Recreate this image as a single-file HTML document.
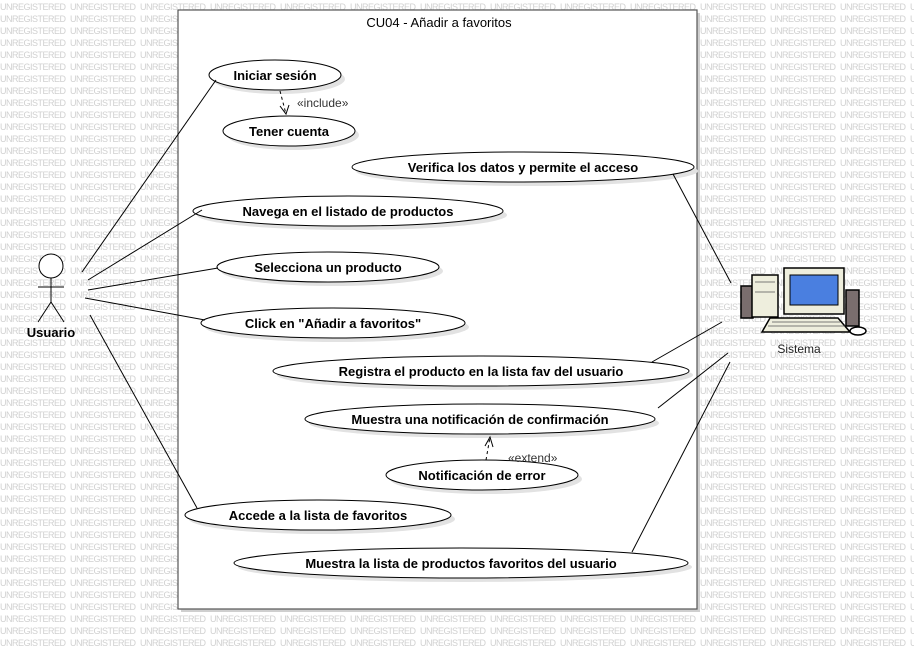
<!DOCTYPE html>
<html><head><meta charset="utf-8"><style>
html,body{margin:0;padding:0;background:#fff;width:914px;height:650px;overflow:hidden}
svg{display:block}
.wm{font-family:"Liberation Sans",sans-serif;font-size:9px;fill:#d0d0d0}
.t{font-family:"Liberation Sans",sans-serif;font-size:13px;font-weight:bold;fill:#000;text-anchor:middle}
</style></head><body>
<svg width="914" height="650" xmlns="http://www.w3.org/2000/svg">
<defs>
<pattern id="wm" x="0" y="0" width="70" height="12" patternUnits="userSpaceOnUse">
<text class="wm" x="0" y="10" textLength="66">UNREGISTERED</text>
</pattern>
</defs>
<rect width="914" height="650" fill="url(#wm)"/>
<rect x="181" y="13" width="519" height="599" fill="#cfcfcf"/>
<rect x="178" y="10" width="519" height="599" fill="#fff" stroke="#555" stroke-width="1.2"/>
<text x="439" y="27" text-anchor="middle" style="font-family:'Liberation Sans',sans-serif;font-size:13px" fill="#000">CU04 - Añadir a favoritos</text>

<g fill="#e2e2e2">
<ellipse cx="279" cy="79" rx="66" ry="15"/>
<ellipse cx="293" cy="135" rx="66" ry="15"/>
<ellipse cx="527" cy="171" rx="171" ry="15"/>
<ellipse cx="352" cy="215" rx="155" ry="15"/>
<ellipse cx="332" cy="271" rx="111" ry="15"/>
<ellipse cx="337" cy="327" rx="132" ry="15"/>
<ellipse cx="485" cy="375" rx="208" ry="15"/>
<ellipse cx="484" cy="423" rx="175" ry="15"/>
<ellipse cx="486" cy="479" rx="96" ry="15"/>
<ellipse cx="322" cy="519" rx="133" ry="15"/>
<ellipse cx="465" cy="567" rx="227" ry="15"/>
</g>
<g fill="#fff" stroke="#000" stroke-width="1">
<ellipse cx="275" cy="75" rx="66" ry="15"/>
<ellipse cx="289" cy="131" rx="66" ry="15"/>
<ellipse cx="523" cy="167" rx="171" ry="15"/>
<ellipse cx="348" cy="211" rx="155" ry="15"/>
<ellipse cx="328" cy="267" rx="111" ry="15"/>
<ellipse cx="333" cy="323" rx="132" ry="15"/>
<ellipse cx="481" cy="371" rx="208" ry="15"/>
<ellipse cx="480" cy="419" rx="175" ry="15"/>
<ellipse cx="482" cy="475" rx="96" ry="15"/>
<ellipse cx="318" cy="515" rx="133" ry="15"/>
<ellipse cx="461" cy="563" rx="227" ry="15"/>
</g>
<g>
<text class="t" x="275" y="80">Iniciar sesión</text>
<text class="t" x="289" y="136">Tener cuenta</text>
<text class="t" x="523" y="172">Verifica los datos y permite el acceso</text>
<text class="t" x="348" y="216">Navega en el listado de productos</text>
<text class="t" x="328" y="272">Selecciona un producto</text>
<text class="t" x="333" y="328">Click en "Añadir a favoritos"</text>
<text class="t" x="481" y="376">Registra el producto en la lista fav del usuario</text>
<text class="t" x="480" y="424">Muestra una notificación de confirmación</text>
<text class="t" x="482" y="480">Notificación de error</text>
<text class="t" x="318" y="520">Accede a la lista de favoritos</text>
<text class="t" x="461" y="568">Muestra la lista de productos favoritos del usuario</text>
</g>

<g stroke="#000" stroke-width="1" fill="none">
<line x1="82" y1="272" x2="216" y2="80"/>
<line x1="88" y1="280" x2="202" y2="210"/>
<line x1="88" y1="290" x2="218" y2="268"/>
<line x1="85" y1="298" x2="205" y2="320"/>
<line x1="90" y1="315" x2="197" y2="508"/>
<line x1="673" y1="174" x2="731" y2="283"/>
<line x1="652" y1="362" x2="722" y2="322"/>
<line x1="658" y1="408" x2="728" y2="353"/>
<line x1="632" y1="552" x2="730" y2="362"/>
<line x1="280" y1="91" x2="286" y2="114" stroke-dasharray="3,3"/>
<polyline points="280,106 286,114 289,105"/>
<line x1="486" y1="460" x2="490" y2="437" stroke-dasharray="3,3"/>
<polyline points="485,446 490,437 493,447"/>
<circle cx="51" cy="266" r="12" fill="#fff"/>
<line x1="51" y1="278" x2="51" y2="302"/>
<line x1="38" y1="287" x2="64" y2="287"/>
<line x1="51" y1="302" x2="38" y2="322"/>
<line x1="51" y1="302" x2="64" y2="322"/>
</g>
<text x="297" y="107" style="font-family:'Liberation Sans',sans-serif;font-size:12px" fill="#333">«include»</text>
<text x="508" y="462" style="font-family:'Liberation Sans',sans-serif;font-size:12px" fill="#333">«extend»</text>
<text class="t" x="51" y="337">Usuario</text>

<g stroke="#000" stroke-width="1.5">
<rect x="741" y="286" width="12" height="32" fill="#7a6e6e"/>
<rect x="752" y="275" width="26" height="42" fill="#eeeedd"/>
<rect x="846" y="290" width="13" height="36" fill="#7a6e6e"/>
<rect x="784" y="268" width="60" height="46" fill="#eeeedd"/>
<rect x="790" y="275" width="48" height="30" fill="#4a7fe0" stroke-width="1"/>
<polygon points="770,318 838,318 850,332 762,332" fill="#eeeedd"/>
<ellipse cx="858" cy="331" rx="8" ry="4" fill="#fff"/>
</g>
<g stroke="#555" stroke-width="0.8">
<line x1="755" y1="282" x2="775" y2="282"/><line x1="755" y1="292" x2="775" y2="292"/>
<line x1="772" y1="322" x2="840" y2="322"/><line x1="768" y1="326" x2="845" y2="326"/>
</g>
<text x="799" y="353" text-anchor="middle" style="font-family:'Liberation Sans',sans-serif;font-size:12px" fill="#222">Sistema</text>
</svg>
</body></html>
